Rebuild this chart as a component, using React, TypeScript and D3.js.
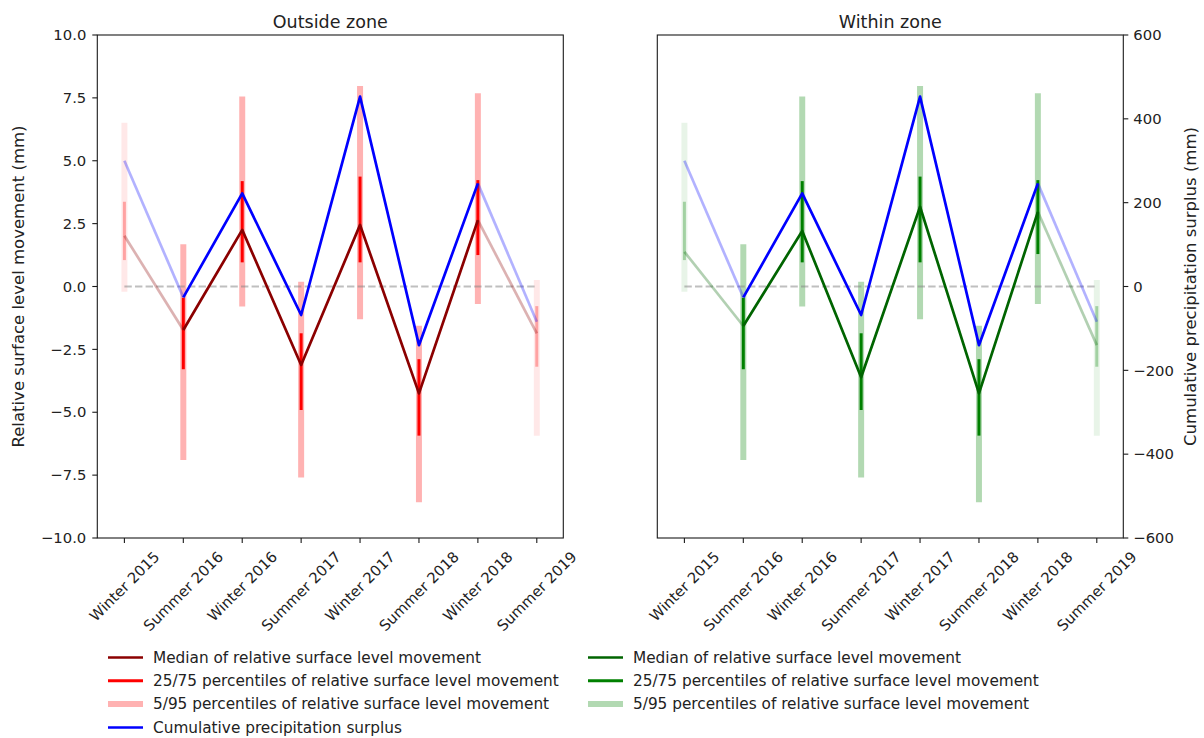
import React, { useEffect, useRef } from "react";
import * as d3 from "d3";

const categories = [
  "Winter 2015", "Summer 2016", "Winter 2016", "Summer 2017",
  "Winter 2017", "Summer 2018", "Winter 2018", "Summer 2019",
];

// Outside zone (mm)
const outsideMedian = [2.02, -1.73, 2.25, -3.12, 2.45, -4.25, 2.64, -1.86];
const outsideP25 = [1.05, -3.29, 0.96, -4.91, 0.96, -5.93, 1.25, -3.19];
const outsideP75 = [3.37, -0.45, 4.19, -1.86, 4.37, -2.89, 4.23, -0.78];
const outsideP5 = [-0.21, -6.9, -0.8, -7.59, -1.3, -8.58, -0.7, -5.93];
const outsideP95 = [6.51, 1.68, 7.55, 0.19, 7.97, -1.56, 7.68, 0.26];

// Within zone (mm)
const withinMedian = [1.38, -1.57, 2.21, -3.61, 3.17, -4.25, 2.97, -2.33];
const withinP25 = [1.05, -3.29, 0.96, -4.91, 0.96, -5.93, 1.29, -3.19];
const withinP75 = [3.37, -0.45, 4.19, -1.86, 4.37, -2.89, 4.23, -0.78];
const withinP5 = [-0.21, -6.9, -0.8, -7.59, -1.3, -8.58, -0.7, -5.93];
const withinP95 = [6.51, 1.68, 7.55, 0.19, 7.97, -1.56, 7.68, 0.26];

// Cumulative precipitation surplus (mm)
const precipSurplus = [300, -26, 222, -68, 453, -140, 246, -84];

const yTicksLeft = [10, 7.5, 5, 2.5, 0, -2.5, -5, -7.5, -10];
const yTicksRight = [600, 400, 200, 0, -200, -400, -600];

const legendLabels = [
  "Median of relative surface level movement",
  "25/75 percentiles of relative surface level movement",
  "5/95 percentiles of relative surface level movement",
  "Cumulative precipitation surplus",
];

const FONT = "DejaVu Sans, sans-serif";

export default function App() {
  const ref = useRef<SVGSVGElement>(null);

  useEffect(() => {
    const svg = d3.select(ref.current);
    svg.selectAll("*").remove();

    const top = 35;
    const bottom = 538;
    const pw = 466;
    const n = categories.length;
    const idx = d3.range(n);
    const isEdge = (i: number) => i === 0 || i === n - 1;
    const tickFs = 14.8;

    const y = d3.scaleLinear().domain([-10, 10]).range([bottom, top]);
    const yR = d3.scaleLinear().domain([-600, 600]).range([bottom, top]);

    const panels = [
      {
        left: 97.3, title: "Outside zone",
        median: outsideMedian, p25: outsideP25, p75: outsideP75, p5: outsideP5, p95: outsideP95,
        dark: "#8b0000", mid: "#ff0000", leftAxis: true, rightAxis: false,
      },
      {
        left: 657.3, title: "Within zone",
        median: withinMedian, p25: withinP25, p75: withinP75, p5: withinP5, p95: withinP95,
        dark: "#006400", mid: "#008000", leftAxis: false, rightAxis: true,
      },
    ];

    panels.forEach((p) => {
      const x = d3.scaleLinear().domain([-0.46, 7.45]).range([p.left, p.left + pw]);
      const g = svg.append("g");

      // 5/95 bars
      g.selectAll(".p95").data(idx).join("line")
        .attr("x1", (i) => x(i)).attr("x2", (i) => x(i))
        .attr("y1", (i) => y(p.p95[i])).attr("y2", (i) => y(p.p5[i]))
        .attr("stroke", p.mid)
        .attr("stroke-opacity", (i) => (isEdge(i) ? 0.09 : 0.3))
        .attr("stroke-width", 6);

      // zero line
      g.append("line")
        .attr("x1", x(0)).attr("x2", x(n - 1))
        .attr("y1", y(0)).attr("y2", y(0))
        .attr("stroke", "#808080").attr("stroke-opacity", 0.5)
        .attr("stroke-width", 2).attr("stroke-dasharray", "7.4 3.2");

      // 25/75 bars
      g.selectAll(".p75").data(idx).join("line")
        .attr("x1", (i) => x(i)).attr("x2", (i) => x(i))
        .attr("y1", (i) => y(p.p75[i])).attr("y2", (i) => y(p.p25[i]))
        .attr("stroke", p.mid)
        .attr("stroke-opacity", (i) => (isEdge(i) ? 0.3 : 1))
        .attr("stroke-width", 3);

      const drawSeries = (vals: number[], sc: d3.ScaleLinear<number, number>, color: string) => {
        const line = d3.line<number>().x((i) => x(i)).y((i) => sc(vals[i]));
        [[0, 1], [n - 2, n - 1]].forEach((seg) => {
          g.append("path").attr("d", line(seg))
            .attr("fill", "none").attr("stroke", color).attr("stroke-opacity", 0.3)
            .attr("stroke-width", 2.7).attr("stroke-linejoin", "round");
        });
        g.append("path").attr("d", line(d3.range(1, n - 1)))
          .attr("fill", "none").attr("stroke", color)
          .attr("stroke-width", 2.7).attr("stroke-linejoin", "round");
      };

      drawSeries(p.median, y, p.dark);
      drawSeries(precipSurplus, yR, "#0000ff");

      // frame
      g.append("rect")
        .attr("x", p.left).attr("y", top).attr("width", pw).attr("height", bottom - top)
        .attr("fill", "none").attr("stroke", "#1a1a1a").attr("stroke-width", 1.1);

      // x ticks
      idx.forEach((i) => {
        g.append("line").attr("x1", x(i)).attr("x2", x(i))
          .attr("y1", bottom).attr("y2", bottom + 5)
          .attr("stroke", "#1a1a1a").attr("stroke-width", 1.1);
        const t = g.append("text").text(categories[i])
          .attr("font-family", FONT).attr("font-size", tickFs).attr("fill", "#222")
          .attr("text-anchor", "middle").attr("dy", "0.35em");
        const L = (t.node() as SVGTextElement).getComputedTextLength();
        const h = tickFs * 1.164;
        const cy = bottom + 10 + ((L + h) * Math.SQRT1_2) / 2;
        t.attr("transform", `translate(${x(i)},${cy}) rotate(-45)`);
      });

      // title
      g.append("text").text(p.title)
        .attr("x", p.left + pw / 2).attr("y", 27.5)
        .attr("text-anchor", "middle").attr("font-family", FONT)
        .attr("font-size", 17.5).attr("fill", "#222");

      if (p.leftAxis) {
        yTicksLeft.forEach((v) => {
          g.append("line").attr("x1", p.left - 5).attr("x2", p.left)
            .attr("y1", y(v)).attr("y2", y(v))
            .attr("stroke", "#1a1a1a").attr("stroke-width", 1.1);
          g.append("text").text(d3.format(".1f")(v).replace("-", "\u2212"))
            .attr("x", p.left - 11).attr("y", y(v)).attr("dy", "0.35em")
            .attr("text-anchor", "end").attr("font-family", FONT)
            .attr("font-size", tickFs).attr("fill", "#222");
        });
        g.append("text").text("Relative surface level movement (mm)")
          .attr("transform", `translate(24,${(top + bottom) / 2}) rotate(-90)`)
          .attr("text-anchor", "middle").attr("font-family", FONT)
          .attr("font-size", 16.5).attr("fill", "#222");
      }

      if (p.rightAxis) {
        const rx = p.left + pw;
        yTicksRight.forEach((v) => {
          g.append("line").attr("x1", rx).attr("x2", rx + 5)
            .attr("y1", yR(v)).attr("y2", yR(v))
            .attr("stroke", "#1a1a1a").attr("stroke-width", 1.1);
          g.append("text").text(String(v).replace("-", "\u2212"))
            .attr("x", rx + 10).attr("y", yR(v)).attr("dy", "0.35em")
            .attr("text-anchor", "start").attr("font-family", FONT)
            .attr("font-size", tickFs).attr("fill", "#222");
        });
        g.append("text").text("Cumulative precipitation surplus (mm)")
          .attr("transform", `translate(1196,${(top + bottom) / 2}) rotate(-90)`)
          .attr("text-anchor", "middle").attr("font-family", FONT)
          .attr("font-size", 16.5).attr("fill", "#222");
      }
    });

    // legends
    const legends = [
      {
        x0: 108,
        items: [
          { color: "#8b0000", op: 1, w: 2.7 },
          { color: "#ff0000", op: 1, w: 3 },
          { color: "#ff0000", op: 0.3, w: 6 },
          { color: "#0000ff", op: 1, w: 2.7 },
        ],
      },
      {
        x0: 588,
        items: [
          { color: "#006400", op: 1, w: 2.7 },
          { color: "#008000", op: 1, w: 3 },
          { color: "#008000", op: 0.3, w: 6 },
        ],
      },
    ];
    const rowY = [657.5, 680.8, 704, 727.5];
    legends.forEach((lg) => {
      lg.items.forEach((it, k) => {
        svg.append("line")
          .attr("x1", lg.x0).attr("x2", lg.x0 + 35)
          .attr("y1", rowY[k]).attr("y2", rowY[k])
          .attr("stroke", it.color).attr("stroke-opacity", it.op).attr("stroke-width", it.w);
        svg.append("text").text(legendLabels[k])
          .attr("x", lg.x0 + 45).attr("y", rowY[k]).attr("dy", "0.35em")
          .attr("font-family", FONT).attr("font-size", 15.3).attr("fill", "#222");
      });
    });
  }, []);

  return (
    <svg
      ref={ref}
      width={1204}
      height={738}
      style={{ position: "absolute", left: 0, top: 0, background: "#fff" }}
    />
  );
}
